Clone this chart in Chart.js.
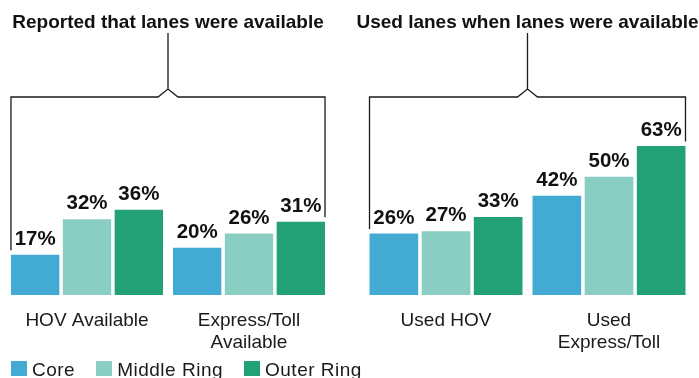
<!DOCTYPE html>
<html>
<head>
<meta charset="utf-8">
<script src="https://cdn.jsdelivr.net/npm/chart.js@4"></script>
<style>
  body { margin: 0; background: #fff; }
  #wrap { position: relative; width: 699px; height: 378px; overflow: hidden; font-family: "Liberation Sans", Arial, sans-serif; }
  #left { position: absolute; left: 0; top: 0; }
  #right { position: absolute; left: 350px; top: 0; }
  #legend { position: absolute; left: 11px; top: 360px; display: flex; font-size: 19px; line-height: 19px; letter-spacing: 0.5px; color: #1a1a1a; }
  #legend .item { display: flex; align-items: flex-start; margin-right: 21px; }
  #legend .box { width: 16px; height: 15px; margin-top: 1px; margin-right: 5px; }
</style>
</head>
<body>
<div id="wrap">
  <canvas id="left" width="350" height="378"></canvas>
  <canvas id="right" width="349" height="378"></canvas>
  <div id="legend"></div>
</div>
<script>
const seriesNames = ['Core', 'Middle Ring', 'Outer Ring'];
const seriesColors = ['#43aad3', '#8acdc2', '#22a076'];

const titleA = 'Reported that lanes were available';
const categoriesA = ['HOV Available', ['Express/Toll', 'Available']];
const coreA = [17, 20];
const middleA = [32, 26];
const outerA = [36, 31];

const titleB = 'Used lanes when lanes were available';
const categoriesB = ['Used HOV', ['Used', 'Express/Toll']];
const coreB = [26, 42];
const middleB = [27, 50];
const outerB = [33, 63];

// bracket + title over each panel, value labels over bars
const panelDecor = {
  id: 'panelDecor',
  afterDatasetsDraw(chart, args, opts) {
    const ctx = chart.ctx;
    const first = chart.getDatasetMeta(0).data[0];
    const lastMeta = chart.getDatasetMeta(chart.data.datasets.length - 1);
    const last = lastMeta.data[lastMeta.data.length - 1];
    const x0 = first.x - first.width / 2;
    const x1 = last.x + last.width / 2;
    const cx = (x0 + x1) / 2;

    ctx.save();
    ctx.strokeStyle = '#1a1a1a';
    ctx.lineWidth = 1.3;
    ctx.beginPath();
    ctx.moveTo(x0, first.y - 4.5);
    ctx.lineTo(x0, 97);
    ctx.lineTo(cx - 10, 97);
    ctx.lineTo(cx, 89);
    ctx.lineTo(cx + 10, 97);
    ctx.lineTo(x1, 97);
    ctx.lineTo(x1, last.y - 4.5);
    ctx.moveTo(cx, 89);
    ctx.lineTo(cx, 33);
    ctx.stroke();

    ctx.fillStyle = '#111';
    ctx.textAlign = 'center';
    ctx.textBaseline = 'alphabetic';
    ctx.font = 'bold 19px "Liberation Sans", Arial, sans-serif';
    ctx.fillText(opts.title, cx, 28);

    ctx.font = 'bold 20.5px "Liberation Sans", Arial, sans-serif';
    chart.data.datasets.forEach((ds, i) => {
      chart.getDatasetMeta(i).data.forEach((bar, j) => {
        ctx.fillText(ds.data[j] + '%', bar.x, bar.y - 10);
      });
    });
    ctx.restore();
  }
};

function makePanel(id, title, labels, series, padLeft, padRight) {
  new Chart(document.getElementById(id), {
    type: 'bar',
    data: {
      labels: labels,
      datasets: series.map((vals, i) => ({
        label: seriesNames[i],
        data: vals,
        backgroundColor: seriesColors[i],
        categoryPercentage: 0.96,
        barPercentage: 0.933
      }))
    },
    options: {
      responsive: false,
      animation: false,
      layout: { padding: { top: 58.5, bottom: 0, left: padLeft, right: padRight } },
      plugins: {
        legend: { display: false },
        tooltip: { enabled: false },
        panelDecor: { title: title }
      },
      scales: {
        x: {
          grid: { display: false },
          border: { display: false },
          ticks: {
            color: '#1a1a1a',
            padding: 7,
            maxRotation: 0,
            autoSkip: false,
            font: { family: '"Liberation Sans", Arial, sans-serif', size: 19, lineHeight: 1.15 }
          },
          afterFit(axis) { axis.height = 83; }
        },
        y: { display: false, min: 0, max: 100 }
      }
    },
    plugins: [panelDecor]
  });
}

makePanel('left', titleA, categoriesA, [coreA, middleA, outerA], 6, 20);
makePanel('right', titleB, categoriesB, [coreB, middleB, outerB], 14.5, 8.5);

const legend = document.getElementById('legend');
seriesNames.forEach((name, i) => {
  const item = document.createElement('div');
  item.className = 'item';
  item.innerHTML = '<span class="box" style="background:' + seriesColors[i] + '"></span><span>' + name + '</span>';
  legend.appendChild(item);
});
</script>
</body>
</html>
